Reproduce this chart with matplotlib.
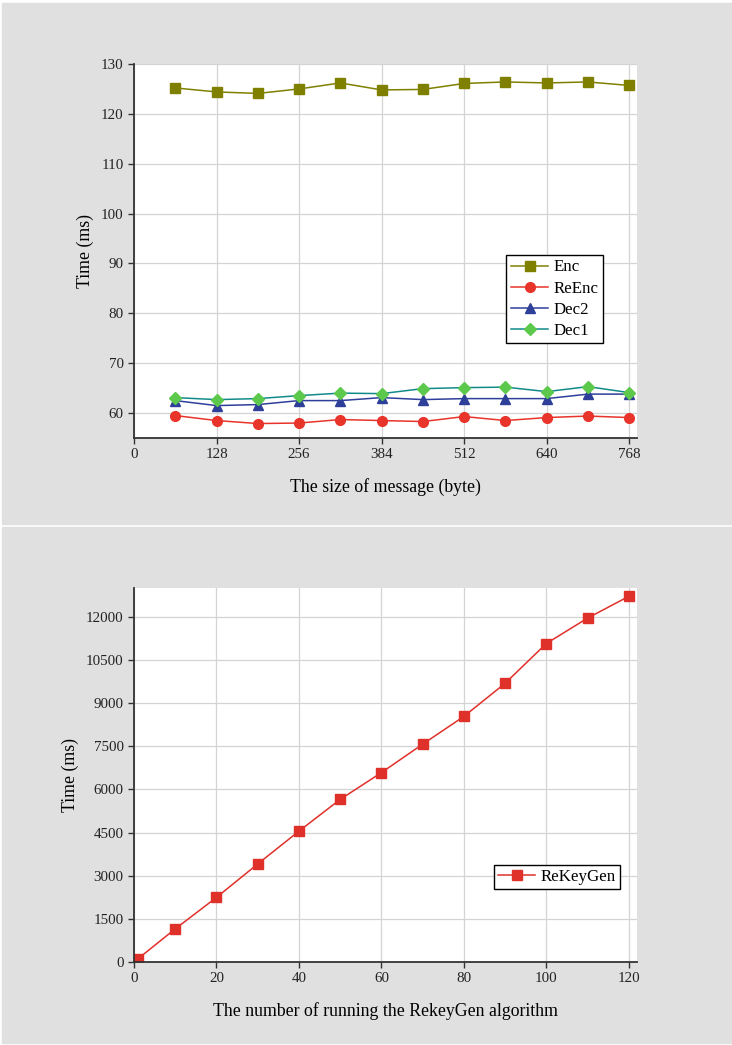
import matplotlib.pyplot as plt
from matplotlib.patches import Rectangle

plt.rcParams['font.family'] = ['Liberation Serif', 'DejaVu Serif']

# top panel data
msg_size = [64, 128, 192, 256, 320, 384, 448, 512, 576, 640, 704, 768]
enc = [125.2, 124.4, 124.1, 125.0, 126.2, 124.8, 124.9, 126.1, 126.4, 126.2, 126.4, 125.7]
reenc = [59.5, 58.5, 57.9, 58.0, 58.7, 58.5, 58.3, 59.3, 58.5, 59.1, 59.4, 59.1]
dec2 = [62.5, 61.5, 61.7, 62.5, 62.5, 63.1, 62.7, 62.9, 62.9, 62.9, 63.8, 63.8]
dec1 = [63.1, 62.7, 62.9, 63.5, 64.0, 63.9, 64.9, 65.1, 65.2, 64.3, 65.3, 64.1]
x_ticks_top = [0, 128, 256, 384, 512, 640, 768]
y_ticks_top = [60, 70, 80, 90, 100, 110, 120, 130]

# bottom panel data
runs = [1, 10, 20, 30, 40, 50, 60, 70, 80, 90, 100, 110, 120]
rekeygen = [116, 1151, 2244, 3407, 4547, 5651, 6582, 7570, 8535, 9686, 11070, 11953, 12709]
x_ticks_bot = [0, 20, 40, 60, 80, 100, 120]
y_ticks_bot = [0, 1500, 3000, 4500, 6000, 7500, 9000, 10500, 12000]

fig = plt.figure(figsize=(7.32, 10.45), dpi=100)
fig.patch.set_facecolor('white')
bg = '#e0e0e0'
fig.patches.append(Rectangle((2 / 732, 1 - 524 / 1045), 730 / 732, 521 / 1045,
                             transform=fig.transFigure, color=bg, zorder=-10))
fig.patches.append(Rectangle((2 / 732, 1 - 1043 / 1045), 730 / 732, 516 / 1045,
                             transform=fig.transFigure, color=bg, zorder=-10))


def style_axes(ax):
    ax.set_facecolor('white')
    ax.grid(True, color='#d4d4d4', linewidth=0.9)
    ax.set_axisbelow(True)
    for s in ['top', 'right']:
        ax.spines[s].set_visible(False)
    for s in ['left', 'bottom']:
        ax.spines[s].set_color('#333333')
        ax.spines[s].set_linewidth(1.3)
    ax.tick_params(direction='out', length=4, width=1, color='#333333',
                   labelsize=10.8, labelcolor='#222222')


ax1 = fig.add_axes([134 / 732, 1 - 438 / 1045, 503 / 732, 374 / 1045])
style_axes(ax1)
ax1.plot(msg_size, enc, color='#808000', marker='s', markersize=6.5, linewidth=1.1, label='Enc')
ax1.plot(msg_size, reenc, color='#e8342a', marker='o', markersize=7, linewidth=1.1, label='ReEnc')
ax1.plot(msg_size, dec2, color='#2e3f9a', marker='^', markersize=7, linewidth=1.1, label='Dec2')
ax1.plot(msg_size, dec1, color='#138a8a', marker='D', markersize=6.5, linewidth=1.1,
         markerfacecolor='#5cc84c', markeredgecolor='#5cc84c', label='Dec1')
ax1.set_xlim(0, 780)
ax1.set_ylim(55, 130)
ax1.set_xticks(x_ticks_top)
ax1.set_yticks(y_ticks_top)
ax1.set_xlabel('The size of message (byte)', fontsize=12.8, labelpad=12)
ax1.set_ylabel('Time (ms)', fontsize=12.8, labelpad=5)
leg1 = ax1.legend(loc='upper left', bbox_to_anchor=(0.74, 0.49), fontsize=12.2,
                  frameon=True, fancybox=False, edgecolor='black', framealpha=1,
                  handlelength=2.2, borderpad=0.28, labelspacing=0.3, handletextpad=0.3,
                  borderaxespad=0)
leg1.get_frame().set_linewidth(1)

ax2 = fig.add_axes([134 / 732, 1 - 962 / 1045, 503 / 732, 374 / 1045])
style_axes(ax2)
ax2.plot(runs, rekeygen, color='#e0302a', marker='s', markersize=6.5, linewidth=1.1,
         label='ReKeyGen')
ax2.set_xlim(0, 122)
ax2.set_ylim(0, 13000)
ax2.set_xticks(x_ticks_bot)
ax2.set_yticks(y_ticks_bot)
ax2.set_xlabel('The number of running the RekeyGen algorithm', fontsize=12.8, labelpad=12)
ax2.set_ylabel('Time (ms)', fontsize=12.8, labelpad=5)
leg2 = ax2.legend(loc='upper left', bbox_to_anchor=(0.715, 0.26), fontsize=12.2,
                  frameon=True, fancybox=False, edgecolor='black', framealpha=1,
                  handlelength=2.2, borderpad=0.25, handletextpad=0.3, borderaxespad=0)
leg2.get_frame().set_linewidth(1)

fig.savefig('out.png', dpi=100)
